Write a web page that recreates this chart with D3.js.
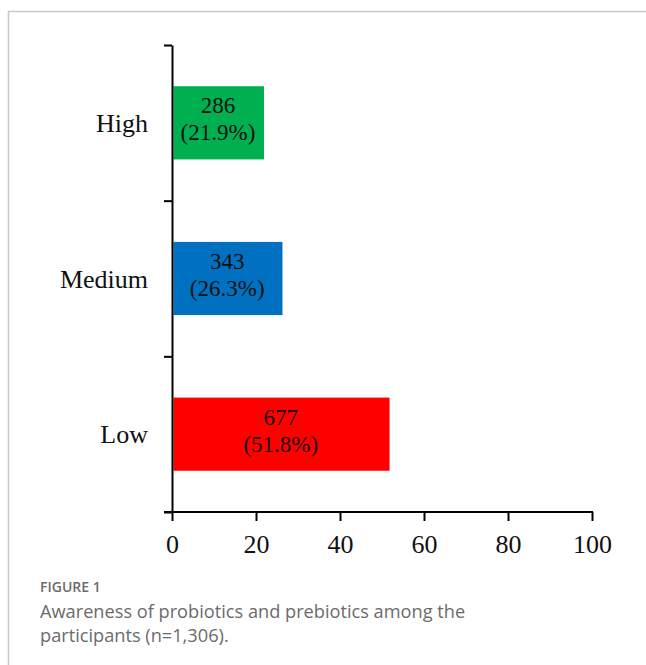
<!DOCTYPE html>
<html><head><meta charset="utf-8">
<script src="https://cdn.jsdelivr.net/npm/d3@7"></script>
<style>
html,body{margin:0;padding:0;background:#fff;}
svg{display:block;}
</style></head>
<body>
<script>
const categories = ["High", "Medium", "Low"];
const counts = [286, 343, 677];
const percents = [21.9, 26.3, 51.8];
const colors = ["#00B050", "#0070C0", "#FF0000"];
const xTicks = [0, 20, 40, 60, 80, 100];
const captionTitle = "FIGURE 1";
const captionLines = ["Awareness of probiotics and prebiotics among the", "participants (n=1,306)."];

const W = 646, H = 665;
const svg = d3.select("body").append("svg").attr("width", W).attr("height", H);

// frame
svg.append("path").attr("d", `M8.5,${H} V11.5 H${W}`).attr("fill", "none").attr("stroke", "#c8c8c8").attr("stroke-width", 1.5);

const x = d3.scaleLinear().domain([0, 100]).range([172, 592]);
const y = d3.scaleBand().domain(categories).range([45, 512]).paddingInner(0.53).paddingOuter(0.265);
const yb = d3.scaleLinear().domain([0, categories.length]).range([512, 45]);

const serif = "'Liberation Serif','Times New Roman',serif";

// bars
const data = categories.map((c, i) => ({ c, n: counts[i], p: percents[i], col: colors[i] }));
svg.selectAll("rect.bar").data(data).join("rect").attr("class", "bar")
  .attr("x", x(0) + 1.5).attr("y", d => y(d.c))
  .attr("width", d => x(d.p) - x(0) - 1.5).attr("height", y.bandwidth())
  .attr("fill", d => d.col);

// bar labels
const lab = svg.selectAll("text.val").data(data).join("text").attr("class", "val")
  .attr("text-anchor", "middle").attr("font-family", serif).attr("font-size", 23).attr("fill", "#111");
lab.append("tspan").attr("x", d => (x(0) + x(d.p)) / 2).attr("y", d => y(d.c) + y.bandwidth() / 2 - 9.5).text(d => d.n);
lab.append("tspan").attr("x", d => (x(0) + x(d.p)) / 2).attr("y", d => y(d.c) + y.bandwidth() / 2 + 17.5).text(d => `(${d.p.toFixed(1)}%)`);

// y axis
const yAxis = svg.append("g").attr("transform", `translate(${x(0)},0)`)
  .call(d3.axisLeft(yb).tickValues(d3.range(0, categories.length + 1)).tickFormat("").tickSize(8).tickSizeOuter(0));
yAxis.selectAll("line").attr("stroke", "#000").attr("stroke-width", 2);
yAxis.select(".domain").attr("stroke", "#000").attr("stroke-width", 2);

// category labels
svg.selectAll("text.cat").data(categories).join("text").attr("class", "cat")
  .attr("x", 148).attr("y", d => y(d) + y.bandwidth() / 2 + 9)
  .attr("text-anchor", "end").attr("font-family", serif).attr("font-size", 26).attr("fill", "#111").text(d => d);

// x axis
const xAxis = svg.append("g").attr("transform", `translate(0,${yb(0)})`)
  .call(d3.axisBottom(x).tickValues(xTicks).tickSize(9).tickSizeOuter(0).tickPadding(14));
xAxis.select(".domain").remove();
xAxis.append("line").attr("x1", x(0) - 8).attr("x2", x(100) + 1).attr("stroke", "#000").attr("stroke-width", 2);
xAxis.selectAll(".tick line").attr("stroke", "#000").attr("stroke-width", 2);
xAxis.selectAll(".tick text").attr("font-family", serif).attr("font-size", 26).attr("fill", "#111");

// caption
svg.append("text").attr("x", 40).attr("y", 592).attr("font-family", "'Open Sans',sans-serif")
  .attr("font-size", 14).attr("font-weight", 600).attr("fill", "#6b6b6b").text(captionTitle);
svg.selectAll("text.cap").data(captionLines).join("text").attr("class", "cap")
  .attr("x", 40).attr("y", (d, i) => 618 + i * 24).attr("font-family", "'Open Sans',sans-serif")
  .attr("font-size", 18.2).attr("fill", "#6b6b6b").text(d => d);
</script>
</body></html>
